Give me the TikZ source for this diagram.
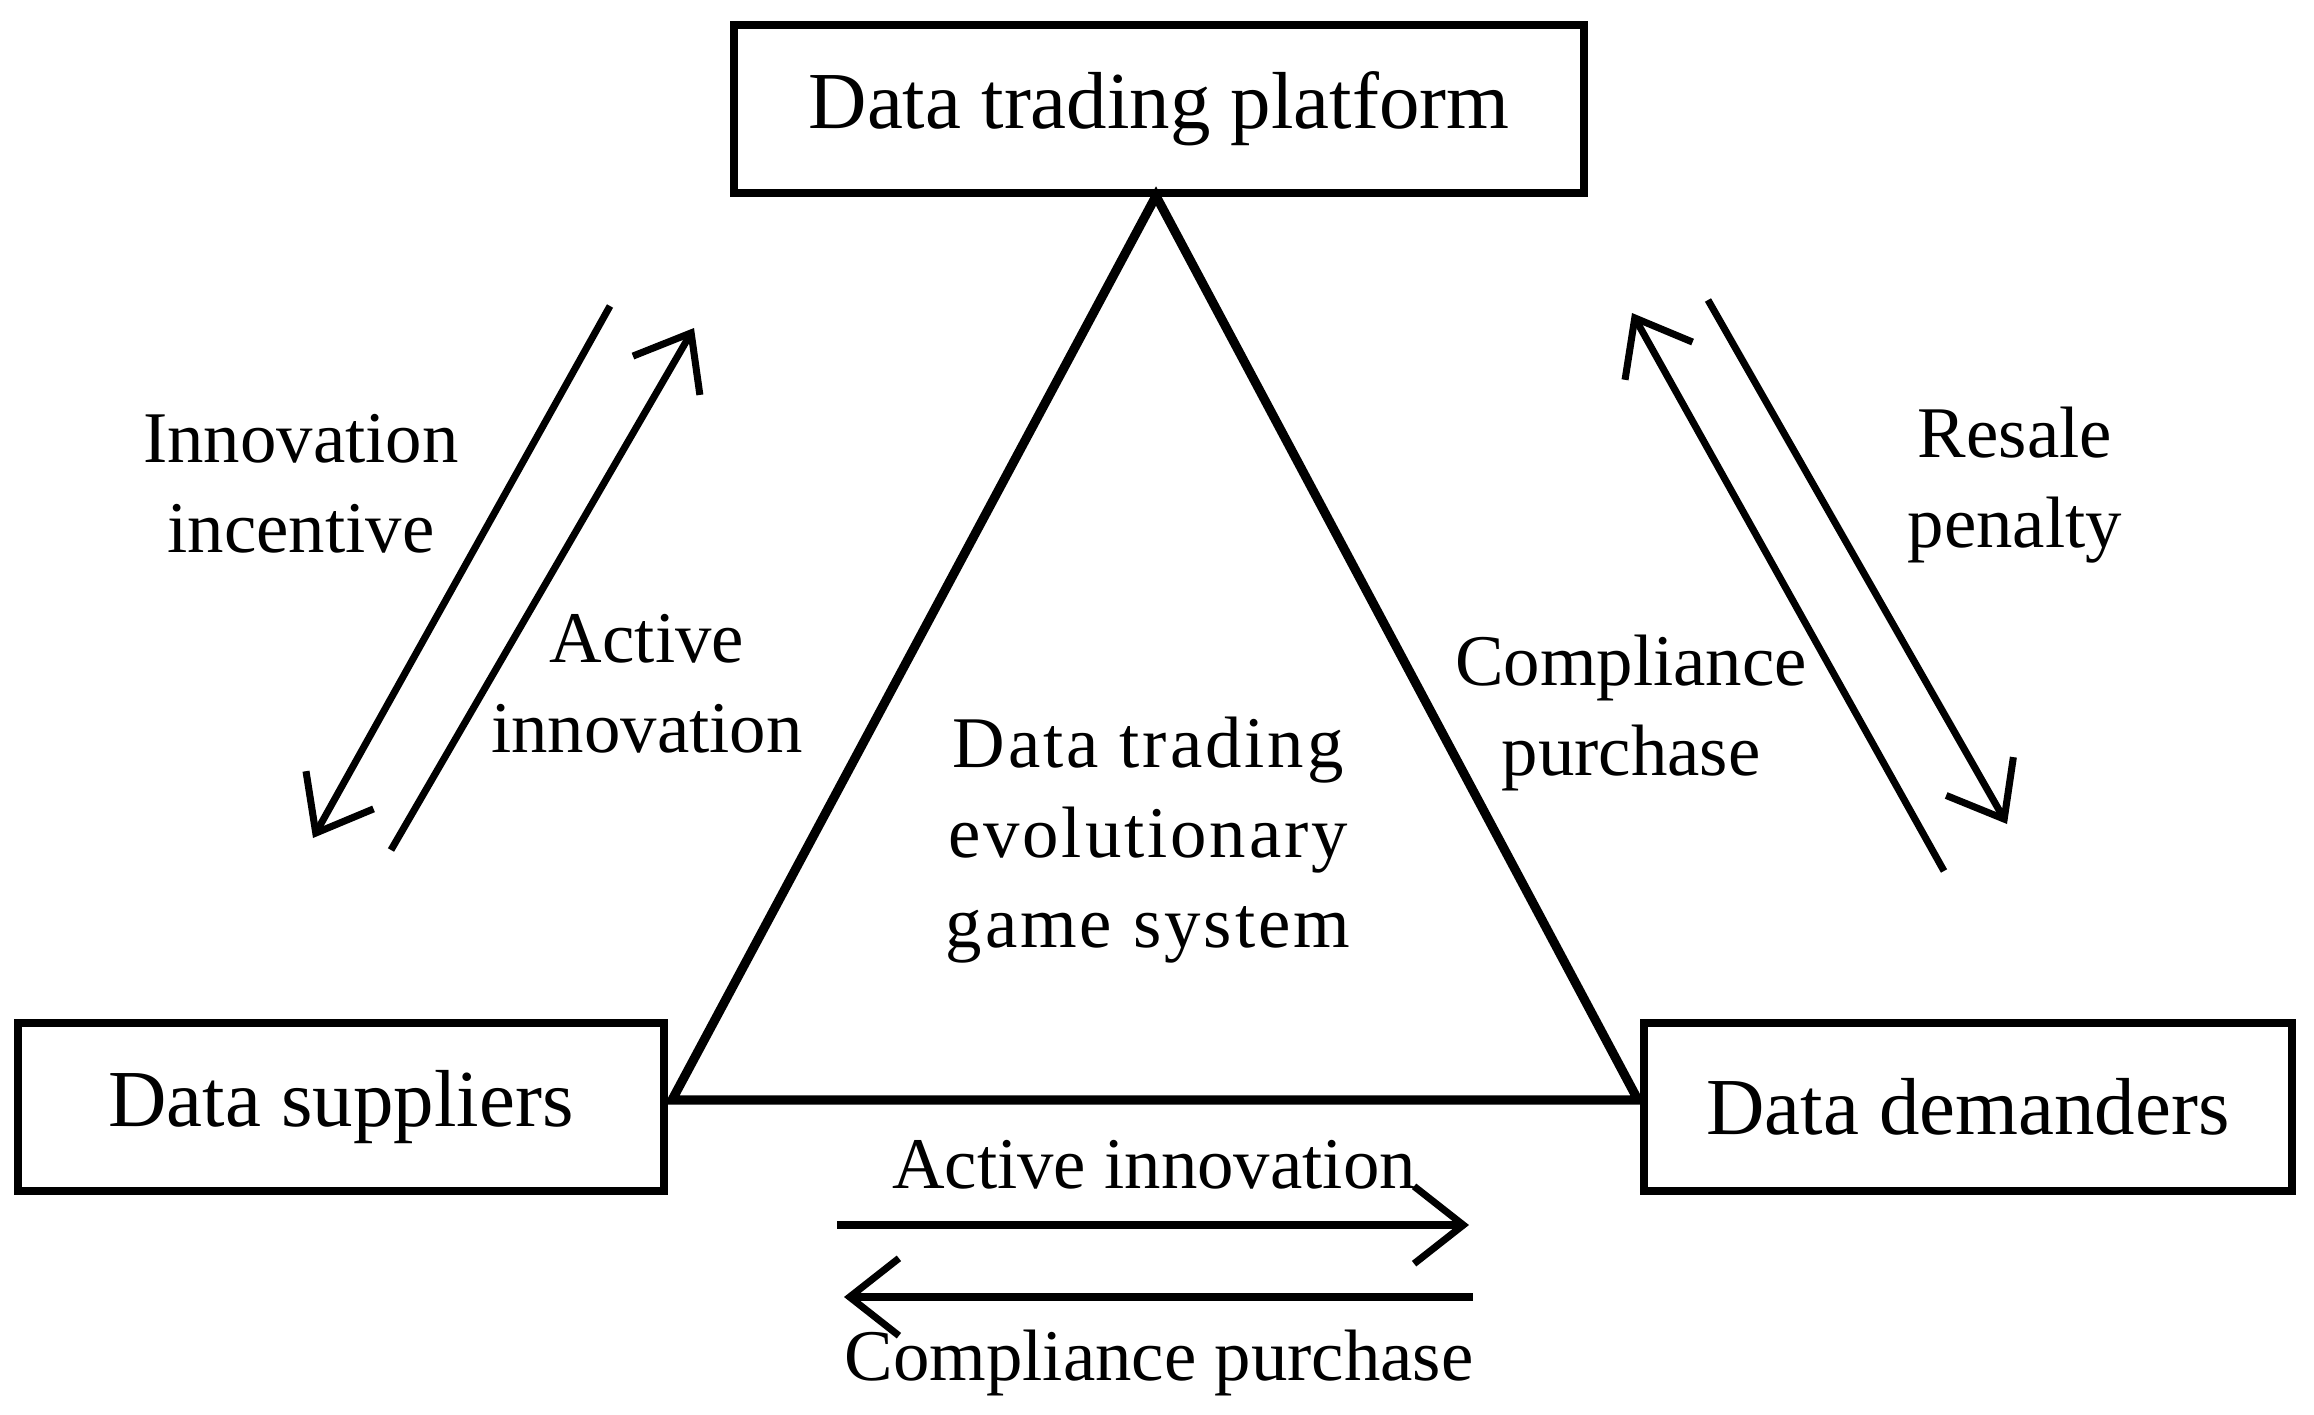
\documentclass[tikz,border=0pt]{standalone}
\usepackage{fontspec}
\setmainfont{Liberation Serif}
\usetikzlibrary{arrows.meta}
\begin{document}
\begin{tikzpicture}[x=0.01cm,y=-0.01cm,
 box/.style={draw,line width=2.2pt,minimum width=#1,minimum height=1.68cm,font=\fontsize{23}{28}\selectfont,inner sep=0pt},
 lbl/.style={align=center,font=\fontsize{20.7}{25.5}\selectfont},
 arr/.style={line width=2pt,-{Straight Barb[length=14pt,width=22pt,line width=2pt]}}]
\useasboundingbox (0,0) rectangle (2314,1415);
\node[box=8.49cm] (top) at (1159,109) {Data trading platform};
\node[box=6.46cm] (sup) at (341,1107) {Data suppliers};
\node[box=6.48cm] (dem) at (1968,1107) {Data demanders};
\coordinate (ta) at (1156,196); \coordinate (tl) at (672,1100); \coordinate (tr) at (1638,1100);
\draw[line width=2.6pt,line join=miter] (ta) -- (tl) -- (tr) -- cycle;
\coordinate (a1) at (610,306); \coordinate (a2) at (313,838);
\coordinate (b1) at (391,850); \coordinate (b2) at (694,328);
\coordinate (c1) at (1944,871); \coordinate (c2) at (1632,313);
\coordinate (d1) at (1708,300); \coordinate (d2) at (2007,824);
\coordinate (e1) at (837,1225); \coordinate (e2) at (1469,1225);
\coordinate (f1) at (1473,1297); \coordinate (f2) at (844,1297);
\draw[arr] (a1) -- (a2); \draw[arr] (b1) -- (b2);
\draw[arr] (c1) -- (c2); \draw[arr] (d1) -- (d2);
\draw[arr] (e1) -- (e2); \draw[arr] (f1) -- (f2);
\node[lbl] (l1) at (301,484) {Innovation\\incentive};
\node[lbl] (l2) at (647,684) {Active\\innovation};
\node[lbl,font=\fontsize{20.7}{25.5}\selectfont\addfontfeatures{LetterSpace=4}] (l3) at (1148,840) {Data trading\\evolutionary\\game system};
\node[lbl] (l4) at (1631,713) {Compliance\\purchase};
\node[lbl] (l5) at (2015,485) {Resale\\penalty};
\node[lbl] (l6) at (1154,1165) {Active innovation};
\node[lbl] (l7) at (1159,1363) {Compliance purchase};
\end{tikzpicture}
\end{document}
